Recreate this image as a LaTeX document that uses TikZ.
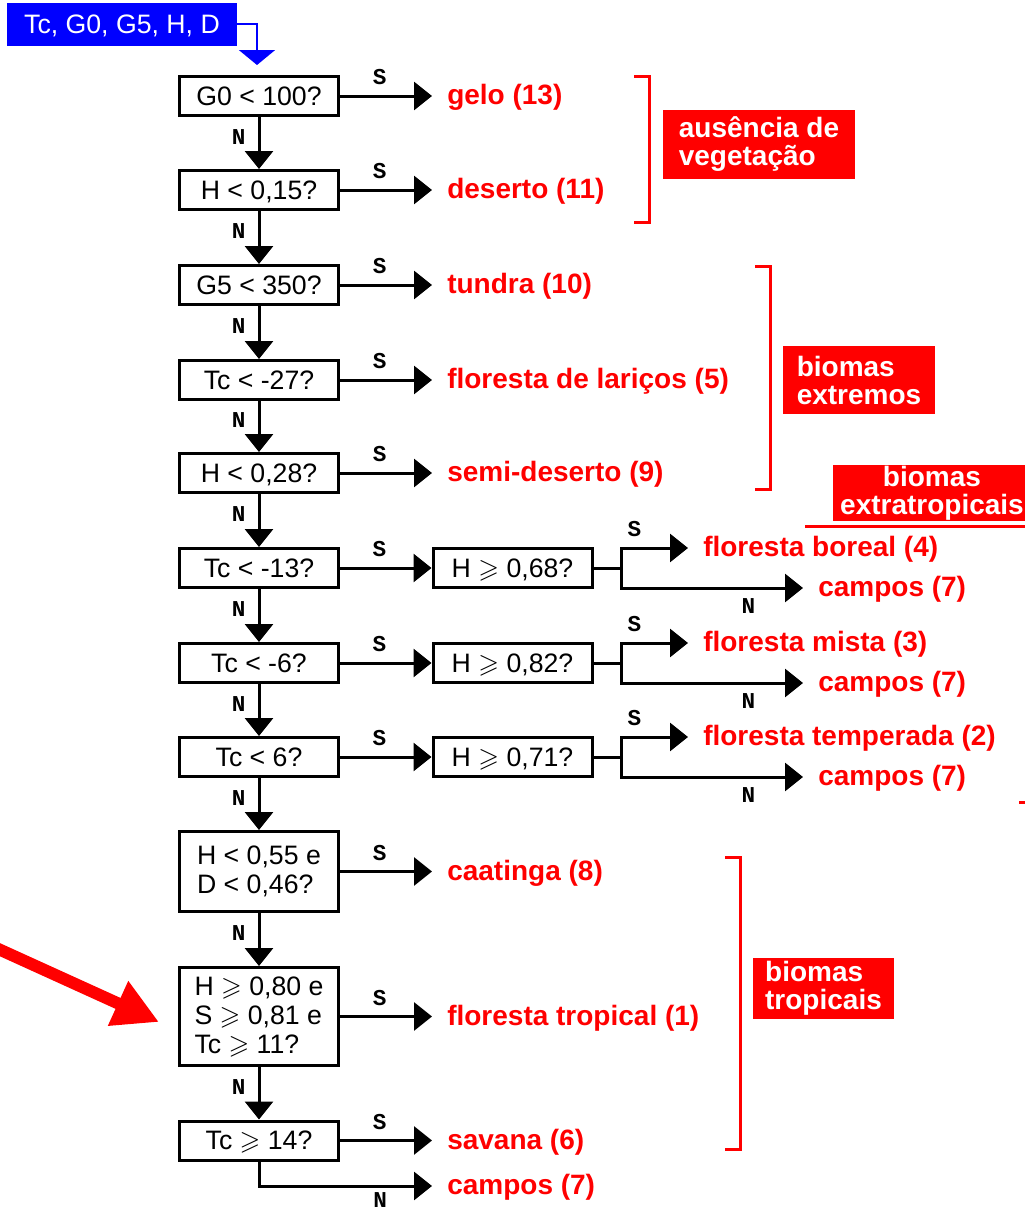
\documentclass[tikz,border=0pt]{standalone}
\usepackage{amssymb}
\usepackage{fontspec}
\setmainfont{Liberation Sans}
\newfontfamily\slabfont{Liberation Mono}
\usetikzlibrary{arrows.meta}
\definecolor{vermelho}{RGB}{255,0,0}
\definecolor{azul}{RGB}{0,0,255}
\newcommand{\mygeq}{\ensuremath{\geqslant}}

\begin{document}
\begin{tikzpicture}[x=0.75pt,y=-0.75pt,
  cond/.style={draw, line width=2.25pt, minimum width=119.25pt, minimum height=29.25pt,
    inner sep=0pt, font=\fontsize{20}{21.75}\selectfont, text height=14pt, text depth=0pt},
  mcond/.style={draw, line width=2.25pt, minimum width=119.25pt, inner sep=0pt,
    align=left, font=\fontsize{20}{21.75}\selectfont},
  inbox/.style={fill=azul, text=white, minimum width=172.5pt, minimum height=32.25pt,
    inner sep=0pt, font=\fontsize{20}{21.75}\selectfont, text height=14pt, text depth=0pt},
  outcome/.style={anchor=west, text=vermelho, inner xsep=11.25pt, inner ysep=0pt,
    font=\bfseries\fontsize{21}{24}\selectfont, text height=14pt, text depth=1pt},
  slab/.style={inner sep=1pt, font=\slabfont\bfseries\fontsize{17}{17}\selectfont},
  tag/.style={fill=vermelho, text=white, inner sep=0pt, align=left,
    font=\bfseries\fontsize{21}{21}\selectfont},
  ln/.style={line width=2.25pt},
  arr/.style={line width=2.25pt, -{Triangle[length=13.5pt,width=21pt]}},
  brk/.style={draw=vermelho, line width=2.25pt, line join=miter}
]
\useasboundingbox (0,0) rectangle (1025,1229);

% input variables
\node[inbox] (in) at (122,24) {Tc, G0, G5, H, D};
\coordinate (inend) at (257,65);
\draw[azul, line width=1.6pt, -{Triangle[length=11.25pt,width=27pt]}] (in.east) -| (inend);

% main chain of tests
\node[cond] (q1) at (259,96) {G0 < 100?};
\node[cond] (q2) at (259,190) {H < 0,15?};
\node[cond] (q3) at (259,285) {G5 < 350?};
\node[cond] (q4) at (259,380) {Tc < -27?};
\node[cond] (q5) at (259,473) {H < 0,28?};
\node[cond] (q6) at (259,568) {Tc < -13?};
\node[cond] (q7) at (259,663) {Tc < -6?};
\node[cond] (q8) at (259,757) {Tc < 6?};
\node[mcond, minimum height=60pt] (q9) at (259,871.5) {H < 0,55 e\\D < 0,46?};
\node[mcond, minimum height=73.5pt] (q10) at (259,1016.5) {H \mygeq{} 0,80 e\\S \mygeq{} 0,81 e\\Tc \mygeq{} 11?};
\node[cond] (q11) at (259,1140.5) {Tc \mygeq{} 14?};

% humidity tests of the extratropical branch
\node[cond] (r6) at (512.5,568) {H \mygeq{} 0,68?};
\node[cond] (r7) at (512.5,663) {H \mygeq{} 0,82?};
\node[cond] (r8) at (512.5,757) {H \mygeq{} 0,71?};

% biomes
\node[outcome] (o1) at (432,96) {gelo (13)};
\node[outcome] (o2) at (432,190) {deserto (11)};
\node[outcome] (o3) at (432,285) {tundra (10)};
\node[outcome] (o4) at (432,380) {floresta de lariços (5)};
\node[outcome] (o5) at (432,473) {semi-deserto (9)};
\node[outcome] (o9) at (432,871.5) {caatinga (8)};
\node[outcome] (o10) at (432,1016.5) {floresta tropical (1)};
\node[outcome] (o11) at (432,1140.5) {savana (6)};
\node[outcome] (o12) at (432,1186) {campos (7)};

\node[outcome] (b6) at (688,548) {floresta boreal (4)};
\node[outcome] (c6) at (803,588) {campos (7)};
\node[outcome] (b7) at (688,643) {floresta mista (3)};
\node[outcome] (c7) at (803,683) {campos (7)};
\node[outcome] (b8) at (688,737) {floresta temperada (2)};
\node[outcome] (c8) at (803,777) {campos (7)};

% yes-branches
\draw[arr] (q1.east) -- node[slab, above=6pt, pos=0.43]{S} (o1.west);
\draw[arr] (q2.east) -- node[slab, above=6pt, pos=0.43]{S} (o2.west);
\draw[arr] (q3.east) -- node[slab, above=6pt, pos=0.43]{S} (o3.west);
\draw[arr] (q4.east) -- node[slab, above=6pt, pos=0.43]{S} (o4.west);
\draw[arr] (q5.east) -- node[slab, above=6pt, pos=0.43]{S} (o5.west);
\draw[arr] (q6.east) -- node[slab, above=6pt, pos=0.43]{S} (r6.west);
\draw[arr] (q7.east) -- node[slab, above=6pt, pos=0.43]{S} (r7.west);
\draw[arr] (q8.east) -- node[slab, above=6pt, pos=0.43]{S} (r8.west);
\draw[arr] (q9.east) -- node[slab, above=6pt, pos=0.43]{S} (o9.west);
\draw[arr] (q10.east) -- node[slab, above=6pt, pos=0.43]{S} (o10.west);
\draw[arr] (q11.east) -- node[slab, above=6pt, pos=0.43]{S} (o11.west);

% no-branches
\draw[arr] (q1.south) -- node[slab, left=8pt, pos=0.38]{N} (q2.north);
\draw[arr] (q2.south) -- node[slab, left=8pt, pos=0.38]{N} (q3.north);
\draw[arr] (q3.south) -- node[slab, left=8pt, pos=0.38]{N} (q4.north);
\draw[arr] (q4.south) -- node[slab, left=8pt, pos=0.38]{N} (q5.north);
\draw[arr] (q5.south) -- node[slab, left=8pt, pos=0.38]{N} (q6.north);
\draw[arr] (q6.south) -- node[slab, left=8pt, pos=0.38]{N} (q7.north);
\draw[arr] (q7.south) -- node[slab, left=8pt, pos=0.38]{N} (q8.north);
\draw[arr] (q8.south) -- node[slab, left=8pt, pos=0.38]{N} (q9.north);
\draw[arr] (q9.south) -- node[slab, left=8pt, pos=0.38]{N} (q10.north);
\draw[arr] (q10.south) -- node[slab, left=8pt, pos=0.38]{N} (q11.north);
\draw[arr] (q11.south) |- node[slab, below=3pt, pos=0.85]{N} (o12.west);

% forks after the humidity tests
\coordinate (j6) at (621,568);
\coordinate (j7) at (621,663);
\coordinate (j8) at (621,757);
\draw[ln] (r6.east) -- (j6);
\draw[ln] (r7.east) -- (j7);
\draw[ln] (r8.east) -- (j8);
\draw[arr] (j6) |- node[slab, above=6pt, pos=0.6]{S} (b6.west);
\draw[arr] (j6) |- node[slab, below=5.5pt, pos=0.85]{N} (c6.west);
\draw[arr] (j7) |- node[slab, above=6pt, pos=0.6]{S} (b7.west);
\draw[arr] (j7) |- node[slab, below=5.5pt, pos=0.85]{N} (c7.west);
\draw[arr] (j8) |- node[slab, above=6pt, pos=0.6]{S} (b8.west);
\draw[arr] (j8) |- node[slab, below=5.5pt, pos=0.85]{N} (c8.west);

% group brackets and captions
\draw[brk] (634,76) -- (649,76) -- (649,222) -- (634,222);
\node[tag, minimum width=144pt, minimum height=51.75pt] (g1) at (759,144.5) {ausência de\\vegetação};

\draw[brk] (755,266) -- (770,266) -- (770,489) -- (755,489);
\node[tag, minimum width=114pt, minimum height=51pt] (g2) at (859,380) {biomas\\extremos};

\node[tag, align=center, minimum width=148.5pt, minimum height=42pt] (g3) at (932,493) {biomas\\extratropicais};
\draw[brk] (805,526) -- (1030,526);
\draw[brk] (1019,802) -- (1030,802);

\draw[brk] (725,857) -- (740,857) -- (740,1149) -- (725,1149);
\node[tag, minimum width=105.75pt, minimum height=45.75pt] (g4) at (823.5,988.5) {biomas\\tropicais};

% pointer to the tropical forest test
\coordinate (ra0) at (-6,947);
\coordinate (ra1) at (159,1022);
\draw[vermelho, line width=9pt, -{Triangle[length=33.75pt,width=34.5pt]}] (ra0) -- (ra1);
\end{tikzpicture}
\end{document}
